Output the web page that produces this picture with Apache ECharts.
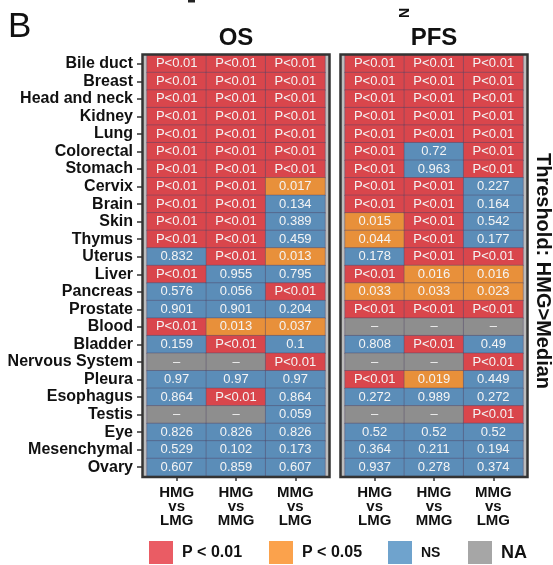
<!DOCTYPE html>
<html>
<head>
<meta charset="utf-8">
<script src="https://cdn.jsdelivr.net/npm/echarts@6/dist/echarts.min.js"></script>
<style>
  html, body { margin: 0; padding: 0; background: #fff; }
  #main { width: 553px; height: 565px; }
</style>
</head>
<body>
<div id="main"></div>
<script>
// 行：癌种
var tissues = ['Bile duct', 'Breast', 'Head and neck', 'Kidney', 'Lung', 'Colorectal', 'Stomach',
    'Cervix', 'Brain', 'Skin', 'Thymus', 'Uterus', 'Liver', 'Pancreas', 'Prostate', 'Blood',
    'Bladder', 'Nervous System', 'Pleura', 'Esophagus', 'Testis', 'Eye', 'Mesenchymal', 'Ovary'];
// 列：比较组
var comparisons = ['HMG\nvs\nLMG', 'HMG\nvs\nMMG', 'MMG\nvs\nLMG'];

var P = 'P<0.01', NA = '–';
// OS 三列 p 值
var osHL = [P, P, P, P, P, P, P, P, P, P, P, '0.832', P, '0.576', '0.901', P, '0.159', NA, '0.97', '0.864', NA, '0.826', '0.529', '0.607'];
var osHM = [P, P, P, P, P, P, P, P, P, P, P, P, '0.955', '0.056', '0.901', '0.013', P, NA, '0.97', P, NA, '0.826', '0.102', '0.859'];
var osML = [P, P, P, P, P, P, P, '0.017', '0.134', '0.389', '0.459', '0.013', '0.795', P, '0.204', '0.037', '0.1', P, '0.97', '0.864', '0.059', '0.826', '0.173', '0.607'];
// PFS 三列 p 值
var pfsHL = [P, P, P, P, P, P, P, P, P, '0.015', '0.044', '0.178', P, '0.033', P, NA, '0.808', NA, P, '0.272', NA, '0.52', '0.364', '0.937'];
var pfsHM = [P, P, P, P, P, '0.72', '0.963', P, P, P, P, P, '0.016', '0.033', P, NA, P, NA, '0.019', '0.989', NA, '0.52', '0.211', '0.278'];
var pfsML = [P, P, P, P, P, P, P, '0.227', '0.164', '0.542', '0.177', P, '0.016', '0.023', P, NA, '0.49', P, '0.449', '0.272', P, '0.52', '0.194', '0.374'];

// 图例
var legendLabels = ['P < 0.01', 'P < 0.05', 'NS', 'NA'];
var cellColors = ['#d9464c', '#e8903a', '#5b8db8', '#8e8e8e'];
var legendColors = ['#ea5c64', '#fba24c', '#6fa3cd', '#a6a6a6'];

var font = "'Liberation Sans', Arial, sans-serif";

function classOf(v) {
    if (v === P) return 0;
    if (v === NA) return 3;
    return parseFloat(v) < 0.05 ? 1 : 2;
}

function buildData(cols) {
    var out = [];
    cols.forEach(function (col, x) {
        col.forEach(function (v, y) {
            out.push([x, y, classOf(v), v]);
        });
    });
    return out;
}

var myChart = echarts.init(document.getElementById('main'));

var panels = [
    { title: 'OS', left: 147, data: buildData([osHL, osHM, osML]) },
    { title: 'PFS', left: 345, data: buildData([pfsHL, pfsHM, pfsML]) }
];
var gridTop = 55, gridH = 421, gridW = 178;

var graphic = [];
panels.forEach(function (p) {
    // 面板底色和边框
    graphic.push({
        type: 'rect', z: -10,
        shape: { x: p.left - 4.5, y: gridTop - 0.5, width: gridW + 9, height: gridH + 1.5 },
        style: { fill: '#bcbcbc', stroke: null }
    });
    graphic.push({
        type: 'rect', z: 100,
        shape: { x: p.left - 4.5, y: gridTop - 0.5, width: gridW + 9, height: gridH + 1.5 },
        style: { fill: null, stroke: '#333', lineWidth: 2.5 }
    });
    graphic.push({
        type: 'text', z: 100,
        x: p.left + gridW / 2, y: 38,
        style: { text: p.title, font: 'bold 24px ' + font, fill: '#111', textAlign: 'center', textVerticalAlign: 'middle' }
    });
});

graphic.push({
    type: 'text', x: 8, y: 27,
    style: { text: 'B', font: '35px ' + font, fill: '#111', textAlign: 'left', textVerticalAlign: 'middle' }
});
// 上方被裁掉的残字
graphic.push({ type: 'rect', shape: { x: 188, y: 0, width: 7, height: 2.5 }, style: { fill: '#222' } });
graphic.push({
    type: 'text', x: 405, y: 18, rotation: Math.PI / 2,
    style: { text: 'N', font: 'bold 14px ' + font, fill: '#111', textAlign: 'left', textVerticalAlign: 'middle' }
});
// 右侧说明
graphic.push({
    type: 'text', x: 543, y: 271, rotation: -Math.PI / 2,
    style: { text: 'Threshold: HMG>Median', font: 'bold 20px ' + font, fill: '#111', textAlign: 'center', textVerticalAlign: 'middle' }
});

// 图例
var legX = [149, 269, 388, 468];
var legFont = [16, 16, 14, 18];
legendLabels.forEach(function (t, i) {
    graphic.push({
        type: 'rect',
        shape: { x: legX[i], y: 541, width: 24, height: 23 },
        style: { fill: legendColors[i] }
    });
    graphic.push({
        type: 'text', x: legX[i] + 33, y: 553,
        style: { text: t, font: 'bold ' + legFont[i] + 'px ' + font, fill: '#111', textAlign: 'left', textVerticalAlign: 'middle' }
    });
});

var option = {
    animation: false,
    grid: panels.map(function (p) {
        return { left: p.left, top: gridTop, width: gridW, height: gridH };
    }),
    xAxis: panels.map(function (p, i) {
        return {
            type: 'category', gridIndex: i, position: 'bottom', offset: 1,
            data: comparisons,
            axisLine: { show: false },
            axisTick: { show: true, alignWithLabel: true, length: 4, lineStyle: { color: '#333', width: 1.5 } },
            axisLabel: { fontFamily: font, fontWeight: 'bold', fontSize: 15, color: '#111', lineHeight: 14, margin: 9, interval: 0 },
            splitLine: { show: false }
        };
    }),
    yAxis: panels.map(function (p, i) {
        return {
            type: 'category', gridIndex: i, inverse: true, offset: 5,
            data: tissues,
            axisLine: { show: false },
            axisTick: { show: i === 0, alignWithLabel: true, length: 5, lineStyle: { color: '#333', width: 1.5 } },
            axisLabel: { show: i === 0, fontFamily: font, fontWeight: 'bold', fontSize: 16, color: '#111', margin: 9, interval: 0 },
            splitLine: { show: false }
        };
    }),
    visualMap: {
        type: 'piecewise', show: false, dimension: 2, seriesIndex: [0, 1],
        pieces: cellColors.map(function (c, i) { return { value: i, color: c }; })
    },
    series: panels.map(function (p, i) {
        return {
            name: p.title,
            type: 'heatmap',
            xAxisIndex: i, yAxisIndex: i,
            data: p.data,
            itemStyle: { borderColor: 'rgba(80,70,100,0.55)', borderWidth: 0.8 },
            label: {
                show: true, color: '#f4f4f4', fontFamily: font, fontSize: 13,
                formatter: function (params) { return params.data[3]; }
            },
            emphasis: { disabled: true }
        };
    }),
    graphic: graphic
};

myChart.setOption(option);
window.onresize = myChart.resize;
</script>
</body>
</html>
